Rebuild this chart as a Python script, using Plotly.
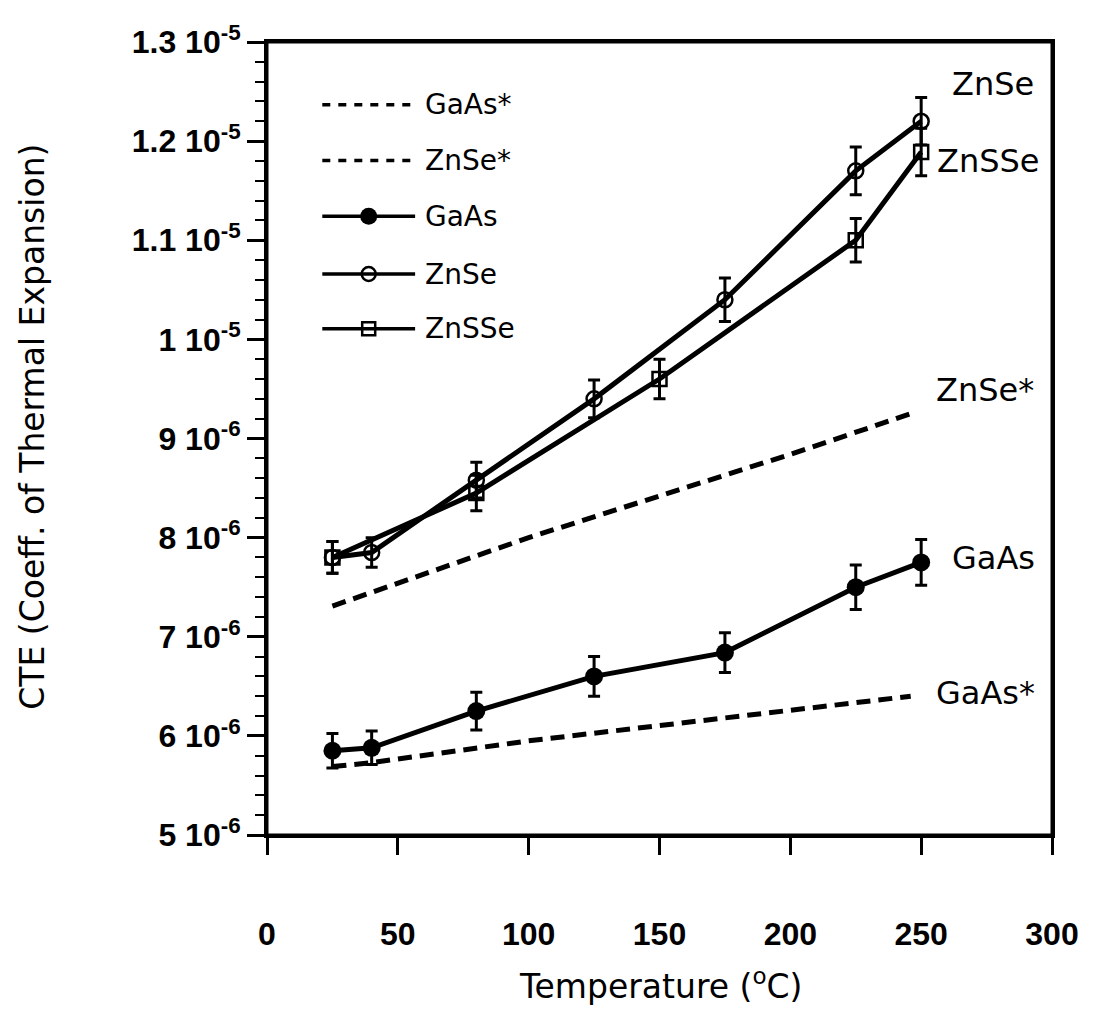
import plotly.graph_objects as go

# ---------------- data ----------------
temp_main = [25, 40, 80, 125, 175, 225, 250]
gaas = [5.85e-6, 5.88e-6, 6.25e-6, 6.60e-6, 6.84e-6, 7.50e-6, 7.75e-6]
gaas_err = [0.175e-6, 0.17e-6, 0.19e-6, 0.20e-6, 0.20e-6, 0.225e-6, 0.23e-6]
znse = [7.80e-6, 7.85e-6, 8.58e-6, 9.40e-6, 10.40e-6, 11.70e-6, 12.20e-6]
znse_err = [0.16e-6, 0.15e-6, 0.18e-6, 0.19e-6, 0.22e-6, 0.24e-6, 0.24e-6]

temp_znsse = [25, 80, 150, 225, 250]
znsse = [7.80e-6, 8.45e-6, 9.60e-6, 11.00e-6, 11.89e-6]
znsse_err = [0.16e-6, 0.18e-6, 0.20e-6, 0.22e-6, 0.24e-6]

temp_gaas_ref = [25, 40, 100, 200, 246]
gaas_ref = [5.69e-6, 5.73e-6, 5.95e-6, 6.25e-6, 6.40e-6]
temp_znse_ref = [25, 100, 200, 246]
znse_ref = [7.31e-6, 8.00e-6, 8.84e-6, 9.25e-6]

x_ticks = [0, 50, 100, 150, 200, 250, 300]
y_ticks = [5e-6, 6e-6, 7e-6, 8e-6, 9e-6, 1e-5, 1.1e-5, 1.2e-5, 1.3e-5]
y_ticktext = ["5 10<sup>-6</sup>", "6 10<sup>-6</sup>", "7 10<sup>-6</sup>", "8 10<sup>-6</sup>",
              "9 10<sup>-6</sup>", "1 10<sup>-5</sup>", "1.1 10<sup>-5</sup>",
              "1.2 10<sup>-5</sup>", "1.3 10<sup>-5</sup>"]

legend_names = ["GaAs*", "ZnSe*", "GaAs", "ZnSe", "ZnSSe"]
series_labels = ["ZnSe", "ZnSSe", "ZnSe*", "GaAs", "GaAs*"]

# ---------------- styles ----------------
BLACK = "black"
TEXT_FONT = "DejaVu Sans"
TICK_FONT = dict(family="Liberation Sans", size=32, color=BLACK, weight="bold")
DASH = "14px,8px"
LW = 5
err_style = dict(type="data", visible=True, color=BLACK, thickness=3, width=6)

# page has an 8px body margin: size the figure so that no scrollbar appears
OFF = 8
W, H = 1099 - 2 * OFF, 1017 - 2 * OFF
L, R, T, B = 267 - OFF, 1099 - OFF - 1062, 25 - OFF, 1017 - OFF - 835
pw, ph = W - L - R, H - T - B


def px(xs):
    """screen x (px) -> paper x"""
    return (xs - OFF - L) / pw


def py(ys):
    """screen y (px) -> paper y"""
    return (H - B - (ys - OFF)) / ph


fig = go.Figure()

# reference (dashed) curves
fig.add_trace(go.Scatter(x=temp_gaas_ref, y=gaas_ref, mode="lines",
                         line=dict(color=BLACK, width=LW, dash=DASH), name=legend_names[0]))
fig.add_trace(go.Scatter(x=temp_znse_ref, y=znse_ref, mode="lines",
                         line=dict(color=BLACK, width=LW, dash=DASH), name=legend_names[1]))

# measured series
fig.add_trace(go.Scatter(x=temp_main, y=gaas, mode="lines+markers", name=legend_names[2],
                         line=dict(color=BLACK, width=LW),
                         marker=dict(symbol="circle", size=18, color=BLACK),
                         error_y=dict(array=gaas_err, **err_style)))
fig.add_trace(go.Scatter(x=temp_main, y=znse, mode="lines+markers", name=legend_names[3],
                         line=dict(color=BLACK, width=LW),
                         marker=dict(symbol="circle-open", size=15, color=BLACK,
                                     line=dict(width=2.5, color=BLACK)),
                         error_y=dict(array=znse_err, **err_style)))
fig.add_trace(go.Scatter(x=temp_znsse, y=znsse, mode="lines+markers", name=legend_names[4],
                         line=dict(color=BLACK, width=LW),
                         marker=dict(symbol="square-open", size=14, color=BLACK,
                                     line=dict(width=2.5, color=BLACK)),
                         error_y=dict(array=znsse_err, **err_style)))

# ---------------- hand-drawn legend (overlay axes 0..1) ----------------
leg_rows = [89, 146, 203, 262, 318]
leg_x0, leg_x1, leg_xm, leg_tx = px(323), px(417), px(370), px(425)
leg_styles = [
    dict(dash="8px,8px", marker=None),
    dict(dash="8px,8px", marker=None),
    dict(dash="solid", marker=dict(symbol="circle", size=17, color=BLACK)),
    dict(dash="solid", marker=dict(symbol="circle-open", size=14, color=BLACK, line=dict(width=2.5, color=BLACK))),
    dict(dash="solid", marker=dict(symbol="square-open", size=13, color=BLACK, line=dict(width=2.5, color=BLACK))),
]
for row, name, st in zip(leg_rows, legend_names, leg_styles):
    yy = py(row)
    fig.add_trace(go.Scatter(x=[leg_x0, leg_x1], y=[yy, yy], mode="lines", xaxis="x2", yaxis="y2",
                             line=dict(color=BLACK, width=3.5, dash=st["dash"]), hoverinfo="skip"))
    if st["marker"] is not None:
        fig.add_trace(go.Scatter(x=[leg_xm], y=[yy], mode="markers", xaxis="x2", yaxis="y2",
                                 marker=st["marker"], hoverinfo="skip"))
    fig.add_annotation(x=leg_tx, y=yy, xref="paper", yref="paper", text=name, showarrow=False,
                       xanchor="left", yanchor="middle",
                       font=dict(family=TEXT_FONT, size=28, color=BLACK))

# ---------------- series labels ----------------
label_pos = [(1002, 68, "center"), (944, 147, "left"), (994, 380, "center"),
             (1003, 552, "center"), (995, 690, "center")]
for (lx, ly, anc), txt in zip(label_pos, series_labels):
    fig.add_annotation(x=px(lx), y=py(ly), xref="paper", yref="paper", text=txt, showarrow=False,
                       xanchor=anc, yanchor="middle",
                       font=dict(family=TEXT_FONT, size=32, color=BLACK))

# axis titles
fig.add_annotation(x=px(666), y=py(988), xref="paper", yref="paper", text="Temperature (<sup>o</sup>C)",
                   showarrow=False, xanchor="center", yanchor="middle",
                   font=dict(family=TEXT_FONT, size=33, color=BLACK))
fig.add_annotation(x=px(30), y=py(418), xref="paper", yref="paper",
                   text="CTE (Coeff. of Thermal Expansion)", textangle=-90,
                   showarrow=False, xanchor="center", yanchor="middle",
                   font=dict(family=TEXT_FONT, size=33, color=BLACK))

# plot frame
fig.add_shape(type="rect", xref="paper", yref="paper", x0=0, x1=1, y0=0, y1=1,
              line=dict(color=BLACK, width=3), layer="above")

fig.update_layout(
    width=W, height=H, margin=dict(l=L, r=R, t=T, b=B),
    paper_bgcolor="white", plot_bgcolor="white", showlegend=False,
    xaxis=dict(range=[0, 300], tickmode="array", tickvals=x_ticks, ticktext=[str(v) for v in x_ticks],
               ticks="outside", ticklen=17, tickwidth=3, tickcolor=BLACK,
               showline=True, linewidth=3, linecolor=BLACK, mirror=True,
               showgrid=False, zeroline=False, tickfont=TICK_FONT, ticklabelstandoff=52,
               ticklabeloverflow="allow"),
    yaxis=dict(range=[5e-6, 1.3e-5], tickmode="array", tickvals=y_ticks, ticktext=y_ticktext,
               ticks="outside", ticklen=17, tickwidth=3, tickcolor=BLACK,
               showline=True, linewidth=3, linecolor=BLACK, mirror=True,
               showgrid=False, zeroline=False, tickfont=TICK_FONT, ticklabeloverflow="allow",
               minor=dict(tickmode="linear", tick0=5e-6, dtick=2e-7, ticks="outside",
                          ticklen=9, tickwidth=2, tickcolor=BLACK, showgrid=False)),
    xaxis2=dict(overlaying="x", anchor="y2", range=[0, 1], visible=False, fixedrange=True),
    yaxis2=dict(overlaying="y", anchor="x2", range=[0, 1], visible=False, fixedrange=True),
)

fig.write_html("out.html")
